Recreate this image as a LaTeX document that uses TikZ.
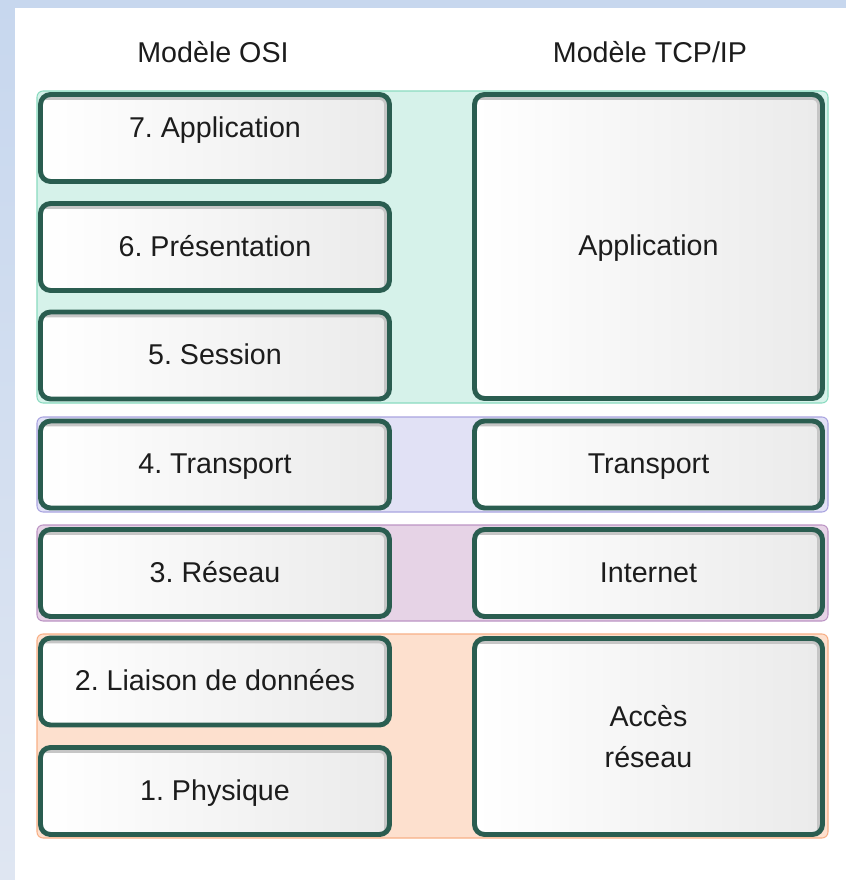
\documentclass[tikz,border=0pt]{standalone}
\usepackage{fontspec}
\setmainfont{Liberation Sans}
\frenchspacing

\definecolor{bgtop}{HTML}{C7D7EE}
\definecolor{bgbot}{HTML}{DFE6F2}
\definecolor{boxline}{HTML}{2A5D50}
\definecolor{txt}{HTML}{1C1C1C}
\definecolor{appfill}{HTML}{D6F2EA}
\definecolor{appline}{HTML}{8ADBC0}
\definecolor{trfill}{HTML}{E1E1F5}
\definecolor{trline}{HTML}{A9A4E0}
\definecolor{netfill}{HTML}{E6D3E6}
\definecolor{netline}{HTML}{BC94C4}
\definecolor{accfill}{HTML}{FDE0CE}
\definecolor{accline}{HTML}{F8B086}

\tikzset{
  layer/.style={draw=boxline, line width=2.8pt, rounded corners=0.2cm,
    left color=white, right color=gray!16, text=txt, inner sep=0pt,
    font=\fontsize{16.3}{23.8}\selectfont,
    text height=1.25em, text depth=0.21em, minimum height=1.74cm,
    path picture={\draw[gray!45, line width=6pt]
      (path picture bounding box.south east) -- (path picture bounding box.north east)
      -- (path picture bounding box.north west);}},
  osi/.style={layer, minimum width=6.98cm},
  tcp/.style={layer, minimum width=6.96cm},
  band/.style={rounded corners=0.12cm, line width=0.6pt},
  title/.style={text=txt, font=\fontsize{16.3}{20}\selectfont}
}

\begin{document}
\begin{tikzpicture}[x=0.02cm,y=-0.02cm]
			\useasboundingbox (0,0) rectangle (846,880);
			\fill[top color=bgtop, bottom color=bgbot] (0,0) rectangle (846,880);
			\fill[white] (15,8) rectangle (846,880);
			
			\draw[band, fill=appfill, draw=appline] (37,91) rectangle (828,403);
			\draw[band, fill=trfill, draw=trline] (37,417) rectangle (828,512);
			\draw[band, fill=netfill, draw=netline] (37,525) rectangle (828,621);
			\draw[band, fill=accfill, draw=accline] (37,634) rectangle (828,838);
			
			\node[title] (osi) at (213,52) {Modèle OSI};
			\node[title] (tcpip) at (650,52) {Modèle TCP/IP};
			
			\node[osi, text depth=0.47cm] (l7) at (215,138) {7. Application};
			\node[osi] (l6) at (215,247) {6. Présentation};
			\node[osi] (l5) at (215,355.5) {5. Session};
			\node[osi] (l4) at (215,464.5) {4. Transport};
			\node[osi] (l3) at (215,573) {3. Réseau};
			\node[osi] (l2) at (215,681.5) {2. Liaison de données};
			\node[osi] (l1) at (215,791) {1. Physique};
			
			\node[tcp, minimum height=6.08cm] (app) at (648.5,246.5) {Application};
			\node[tcp] (tr) at (648.5,464.5) {Transport};
			\node[tcp] (inet) at (648.5,573) {Internet};
			\node[tcp, minimum height=3.92cm, align=center, text height=, text depth=] (acc) at (648.5,736.5) {Accès\\réseau};
\end{tikzpicture}
\end{document}
